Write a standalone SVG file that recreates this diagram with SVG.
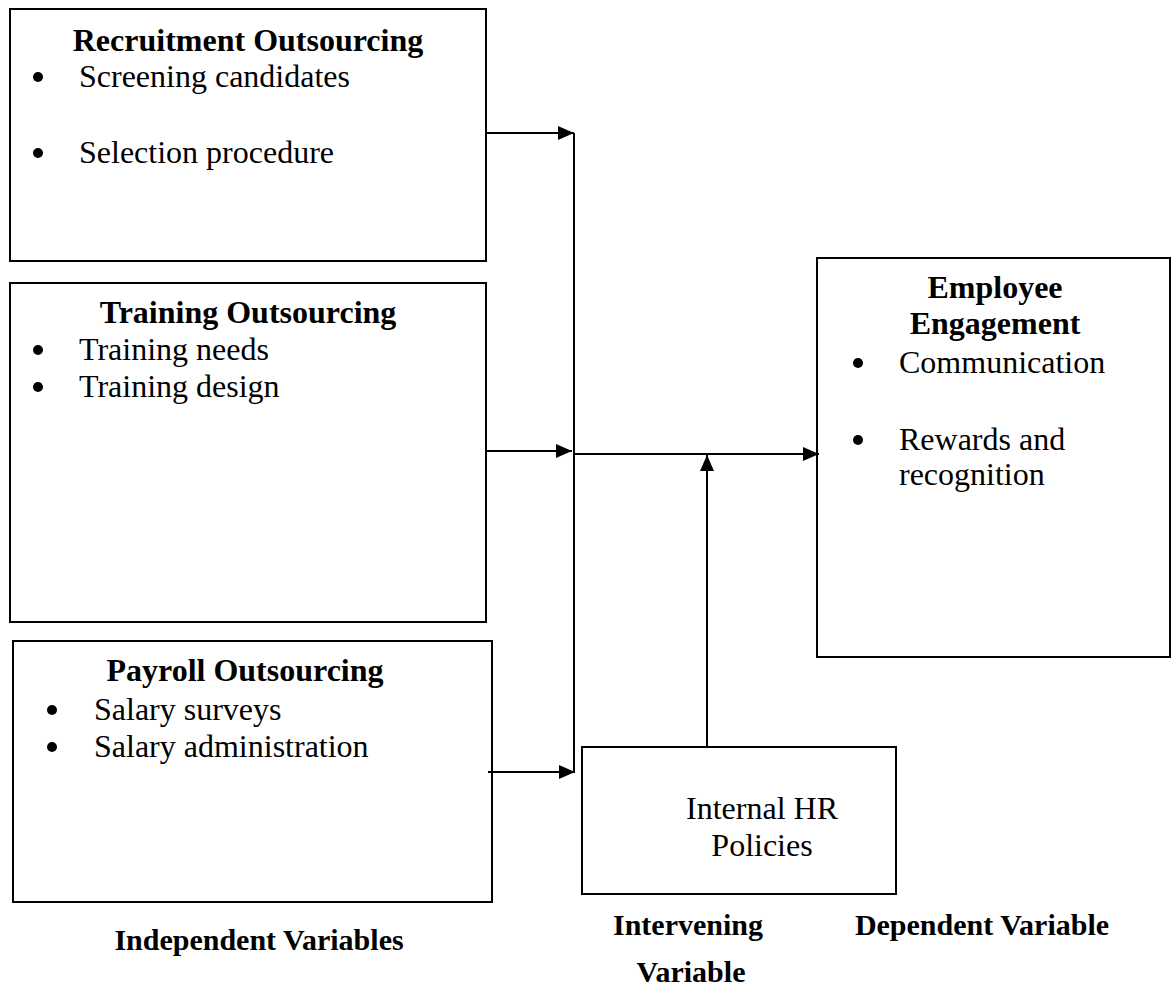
<svg xmlns="http://www.w3.org/2000/svg" width="1171" height="994" viewBox="0 0 1171 994">
<style>
.box{fill:#fff;stroke:#000;stroke-width:2}
.t{font-family:"Liberation Serif","Times New Roman",serif;font-size:32px;fill:#000}
.b{font-weight:bold}
.lbl{font-family:"Liberation Serif","Times New Roman",serif;font-size:30px;font-weight:bold;fill:#000}
.m{text-anchor:middle}
.con{stroke:#000;stroke-width:2;fill:none}
</style>
<defs>
<marker id="ah" markerUnits="userSpaceOnUse" markerWidth="18" markerHeight="16" refX="16" refY="7" orient="auto">
<path d="M0,0 L16,7 L0,14 Z" fill="#000"/>
</marker>
</defs>
<rect width="1171" height="994" fill="#fff"/>
<g id="recruitment">
<rect class="box" x="10" y="9" width="476" height="252"/>
<text class="t b m" x="248" y="51">Recruitment Outsourcing</text>
<circle cx="38" cy="77" r="5"/>
<text class="t" x="79" y="87">Screening candidates</text>
<circle cx="38" cy="153" r="5"/>
<text class="t" x="79" y="163">Selection procedure</text>
</g>
<g id="training">
<rect class="box" x="10" y="283" width="476" height="339"/>
<text class="t b m" x="248" y="323">Training Outsourcing</text>
<circle cx="38" cy="350" r="5"/>
<text class="t" x="79" y="360">Training needs</text>
<circle cx="38" cy="387" r="5"/>
<text class="t" x="79" y="397">Training design</text>
</g>
<g id="payroll">
<rect class="box" x="13" y="641" width="479" height="261"/>
<text class="t b m" x="245" y="681">Payroll Outsourcing</text>
<circle cx="52" cy="710" r="5"/>
<text class="t" x="94" y="720">Salary surveys</text>
<circle cx="52" cy="747" r="5"/>
<text class="t" x="94" y="757">Salary administration</text>
</g>
<g id="engagement">
<rect class="box" x="817" y="258" width="353" height="399"/>
<text class="t b m" x="995" y="298">Employee</text>
<text class="t b m" x="995" y="334">Engagement</text>
<circle cx="858" cy="363" r="5"/>
<text class="t" x="899" y="373">Communication</text>
<circle cx="858" cy="440" r="5"/>
<text class="t" x="899" y="450">Rewards and</text>
<text class="t" x="899" y="485">recognition</text>
</g>
<g id="hr">
<rect class="box" x="582" y="747" width="314" height="147"/>
<text class="t m" x="762" y="819">Internal HR</text>
<text class="t m" x="762" y="856">Policies</text>
</g>
<g id="connectors">
<line class="con" x1="574" y1="133" x2="574" y2="773"/>
<line class="con" x1="486" y1="133" x2="574" y2="133" marker-end="url(#ah)"/>
<line class="con" x1="486" y1="451" x2="572" y2="451" marker-end="url(#ah)"/>
<line class="con" x1="488" y1="772" x2="575" y2="772" marker-end="url(#ah)"/>
<line class="con" x1="574" y1="454" x2="819" y2="454" marker-end="url(#ah)"/>
<line class="con" x1="707" y1="747" x2="707" y2="455" marker-end="url(#ah)"/>
</g>
<g id="labels">
<text class="lbl m" x="259" y="950">Independent Variables</text>
<text class="lbl m" x="688" y="935">Intervening</text>
<text class="lbl m" x="691" y="982">Variable</text>
<text class="lbl m" x="982" y="935">Dependent Variable</text>
</g>
</svg>
